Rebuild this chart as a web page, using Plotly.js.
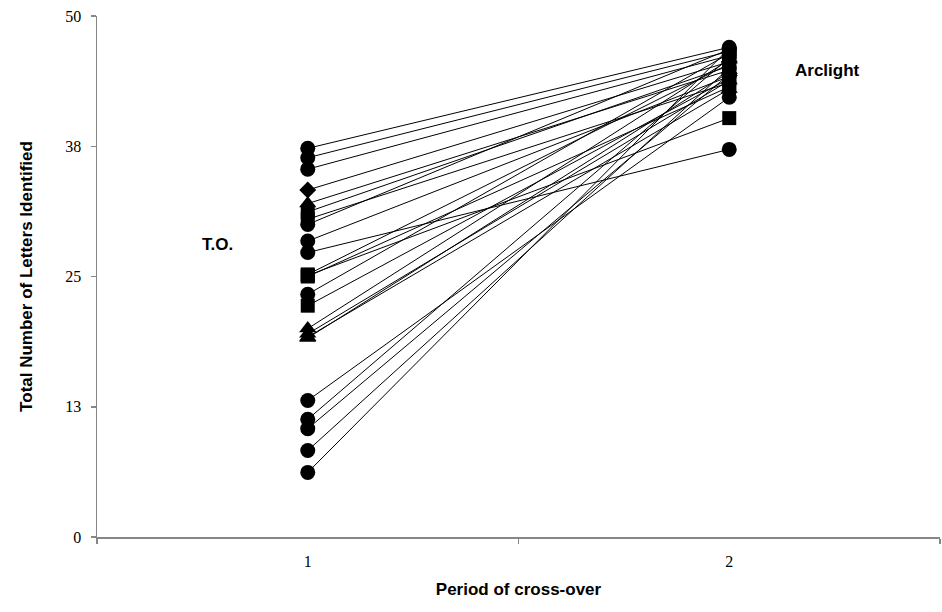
<!DOCTYPE html>
<html>
<head>
<meta charset="utf-8">
<script src="https://cdn.plot.ly/plotly-3.0.1.min.js"></script>
<style>
html,body{margin:0;padding:0;background:#fff;}
#chart{width:942px;height:612px;}
</style>
</head>
<body>
<div id="chart"></div>
<script>
// ---- data ----
const periods = ["1", "2"];
const periodOneScores = [37.3, 36.4, 35.3, 33.3, 32.0, 31.2, 30.5, 30.0, 28.4, 27.3, 25.2, 25.0, 25.1, 23.3, 22.2, 20.0, 19.5, 19.1, 19.2, 13.1, 11.3, 10.4, 8.3, 6.2];
const periodTwoScores = [47.0, 46.6, 46.2, 45.6, 44.8, 45.2, 43.6, 46.8, 44.2, 37.2, 45.4, 43.2, 40.2, 46.4, 44.0, 45.8, 43.8, 44.6, 43.0, 42.2, 46.0, 44.4, 45.0, 46.9];
const yTickValues = [0, 12.5, 25, 37.5, 50];
const yTickLabels = ["0", "13", "25", "38", "50"];

// ---- styles ----
const markerShapes = ["circle","circle","circle","diamond","triangle-up","square","square","circle","circle","circle","square","square","square","circle","square","triangle-up","triangle-up","triangle-up","triangle-up","circle","circle","circle","circle","circle"];
const sizeFor = {circle: 15, square: 14, diamond: 13, "triangle-up": 15};

const traces = periodOneScores.map((v, i) => ({
  type: "scatter",
  mode: "lines+markers",
  x: periods,
  y: [v, periodTwoScores[i]],
  line: {color: "#000", width: 1},
  marker: {color: "#000", symbol: markerShapes[i], size: sizeFor[markerShapes[i]], line: {width: 0}},
  showlegend: false,
  hoverinfo: "y"
}));

const titleFont = {family: "Liberation Sans", size: 17, color: "#000", weight: "bold"};

const layout = {
  width: 942, height: 612,
  margin: {l: 97, r: 2, t: 16, b: 75},
  paper_bgcolor: "#fff", plot_bgcolor: "#fff",
  xaxis: {
    type: "category",
    categoryorder: "array", categoryarray: periods,
    range: [-0.5, 1.5],
    tickson: "boundaries",
    ticks: "outside", ticklen: 5, tickcolor: "#868686", tickwidth: 1.5,
    ticklabelstandoff: 9,
    showline: true, linecolor: "#868686", linewidth: 1.5,
    showgrid: false, zeroline: false,
    tickfont: {family: "Liberation Serif", size: 16, color: "#000"},
    title: {text: "Period of cross-over", font: titleFont, standoff: 14}
  },
  yaxis: {
    range: [0, 50],
    tickmode: "array", tickvals: yTickValues, ticktext: yTickLabels,
    ticks: "outside", ticklen: 5, tickcolor: "#868686", tickwidth: 1.5,
    ticklabelstandoff: 6,
    showline: true, linecolor: "#868686", linewidth: 1.5,
    showgrid: false, zeroline: false,
    tickfont: {family: "Liberation Serif", size: 16, color: "#000"},
    title: {text: "Total Number of Letters Identified", font: titleFont, standoff: 28}
  },
  annotations: [
    {text: "<b>T.O.</b>", xref: "paper", yref: "paper", x: 0.1435, y: 0.562, xanchor: "center", yanchor: "middle", showarrow: false, font: {family: "Liberation Sans", size: 17, color: "#000"}},
    {text: "<b>Arclight</b>", xref: "paper", yref: "paper", x: 0.867, y: 0.896, xanchor: "center", yanchor: "middle", showarrow: false, font: {family: "Liberation Sans", size: 17, color: "#000"}}
  ]
};

Plotly.newPlot("chart", traces, layout, {displayModeBar: false, staticPlot: true});
</script>
</body>
</html>
